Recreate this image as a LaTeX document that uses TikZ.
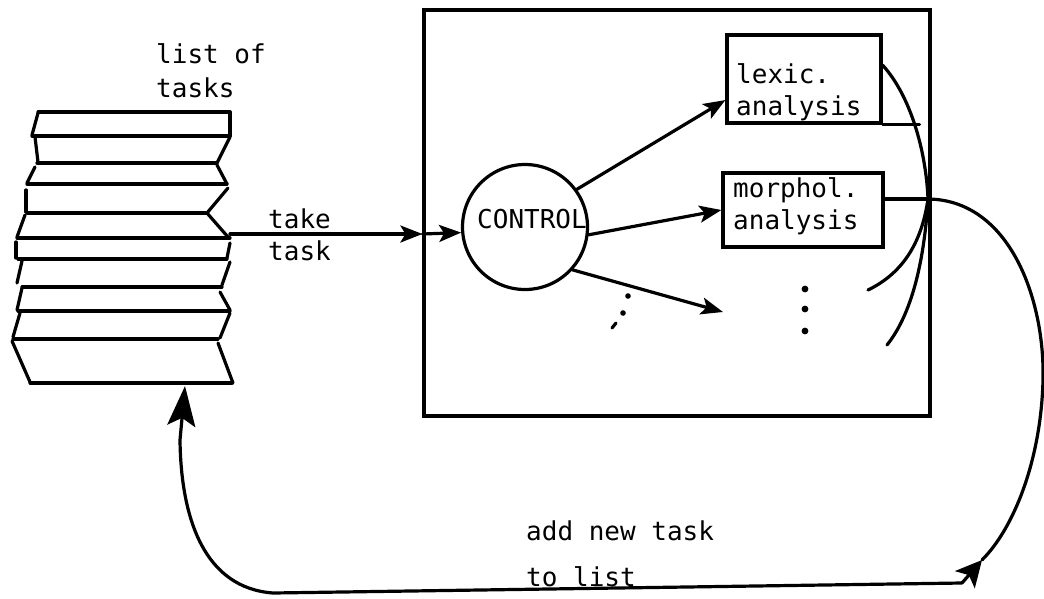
\documentclass[tikz,border=0pt]{standalone}
\usepackage{fontspec}
\newfontfamily\dmono{DejaVu Sans Mono}
\usetikzlibrary{arrows.meta}
\begin{document}
\begin{tikzpicture}[x=1pt,y=-1pt,
  ink/.style={line width=3.2pt, line cap=round, line join=round},
  lbl/.style={font=\dmono\fontsize{26}{30}\selectfont, inner sep=0pt, anchor=base west},
  boxnode/.style={draw, line width=3.2pt, inner sep=0pt},
  tipA/.style={-{Stealth[length=22pt,width=17pt,inset=5pt]}},
  tipR/.style={-{Stealth[length=26pt,width=26pt,inset=6pt]}},
  tipL/.style={-{Stealth[length=40pt,width=28pt,inset=8pt]}},
]
\useasboundingbox (0,0) rectangle (1044,598);

% list of tasks (stack of sheets)
\draw[ink] (38,112) -- (230,112);
\draw[ink] (32,136) -- (230,136);
\draw[ink] (37,163) -- (217,163);
\draw[ink] (27,184) -- (227,184);
\draw[ink] (27,213) -- (207,213);
\draw[ink] (17,238) -- (230,238);
\draw[ink] (18,259) -- (227,259);
\draw[ink] (22,287) -- (222,287);
\draw[ink] (18,311) -- (230,311);
\draw[ink] (13,339) -- (218,339);
\draw[ink] (30,383) -- (232,383);
% left edges
\draw[ink] (38,113) -- (32,135);
\draw[ink] (35,137) -- (38,162);
\draw[ink] (35,167) -- (27,183);
\draw[ink] (26,190) -- (26,212);
\draw[ink] (25,215) -- (17,237);
\draw[ink] (16,242) -- (16,258);
\draw[ink] (22,261) -- (17,283);
\draw[ink] (22,288) -- (17,310);
\draw[ink] (20,313) -- (13,337);
\draw[ink] (12,341) -- (30,382);
% right edges
\draw[ink] (230,112) -- (230,136);
\draw[ink] (230,137) -- (217,163);
\draw[ink] (217,165) -- (227,184);
\draw[ink] (228,188) -- (207,213);
\draw[ink] (207,213) -- (228,237);
\draw[ink] (230,243) -- (227,258);
\draw[ink] (230,262) -- (222,285);
\draw[ink] (220,292) -- (230,310);
\draw[ink] (230,313) -- (220,338);
\draw[ink] (218,343) -- (233,383);

\node[lbl] (listlbl1) at (156,63) {list of};
\node[lbl] (listlbl2) at (156,97) {tasks};

% main frame and modules
\node[boxnode, minimum width=506pt, minimum height=406pt] (frame) at (677,213) {};
\node[draw, circle, line width=3.2pt, minimum size=125pt, inner sep=0pt] (ctrl) at (525,227) {};
\node[lbl] (ctrltxt) at (477,228) {CONTROL};
\node[boxnode, minimum width=154pt, minimum height=88pt] (lexic) at (804,79) {};
\node[lbl] (lex1) at (736,83) {lexic.};
\node[lbl] (lex2) at (736,115) {analysis};
\node[boxnode, minimum width=160pt, minimum height=74pt] (morph) at (803,210) {};
\node[lbl] (mor1) at (733,197) {morphol.};
\node[lbl] (mor2) at (733,229) {analysis};

\node[lbl] (take1) at (268,228) {take};
\node[lbl] (take2) at (268,260) {task};
\node[lbl] (add1) at (526,540) {add new task};
\node[lbl] (add2) at (526,586) {to list};

% coordinates
\coordinate (listR) at (230,234);
\coordinate (listB) at (185,386);
\coordinate (J) at (928,199);
\coordinate (free3) at (723,312);
\coordinate (c1) at (868,290);
\coordinate (c2) at (887,345);
\coordinate (Rtip) at (982,560);
\coordinate (Rbase) at (962,583);
\coordinate (BL) at (273,593);

% take task
\draw[ink, tipA] (listR) -- (frame.west |- listR);
\draw[ink, tipA] (frame.west |- listR) -- (ctrl.185);

% control outputs
\draw[ink, tipA] (ctrl.36) -- (lexic.195);
\draw[ink, tipA] (ctrl.353) -- (morph.west);
\draw[ink, tipA] (ctrl.318) -- (free3);

% ellipses
\fill (805,289) circle (3.4pt);
\fill (805,309) circle (3.4pt);
\fill (805,331) circle (3.4pt);
\fill (628,296) circle (2.8pt);
\fill (623,313) circle (2.8pt);
\draw[ink] (616,323) -- (612,328);

% collecting lines
\draw[ink] (lexic.south east) -- ++(37,0);
\draw[ink] (morph.east |- J) -- (J);
\draw[ink] (lexic.10) .. controls (910,95) and (926,150) .. (J);
\draw[ink] (c1) .. controls (905,272) and (922,240) .. (J);
\draw[ink] (c2) .. controls (915,310) and (925,250) .. (J);

% return loop
\draw[ink] (J) .. controls (1010,200) and (1045,300) .. (1043,380)
  .. controls (1041,460) and (1014,528) .. (Rtip);
\draw[ink, tipR] (Rbase) -- (Rtip);
\draw[ink, tipL] (Rbase) -- (BL) .. controls (205,588) and (181,520) .. (180,440) -- (listB);
\end{tikzpicture}
\end{document}
